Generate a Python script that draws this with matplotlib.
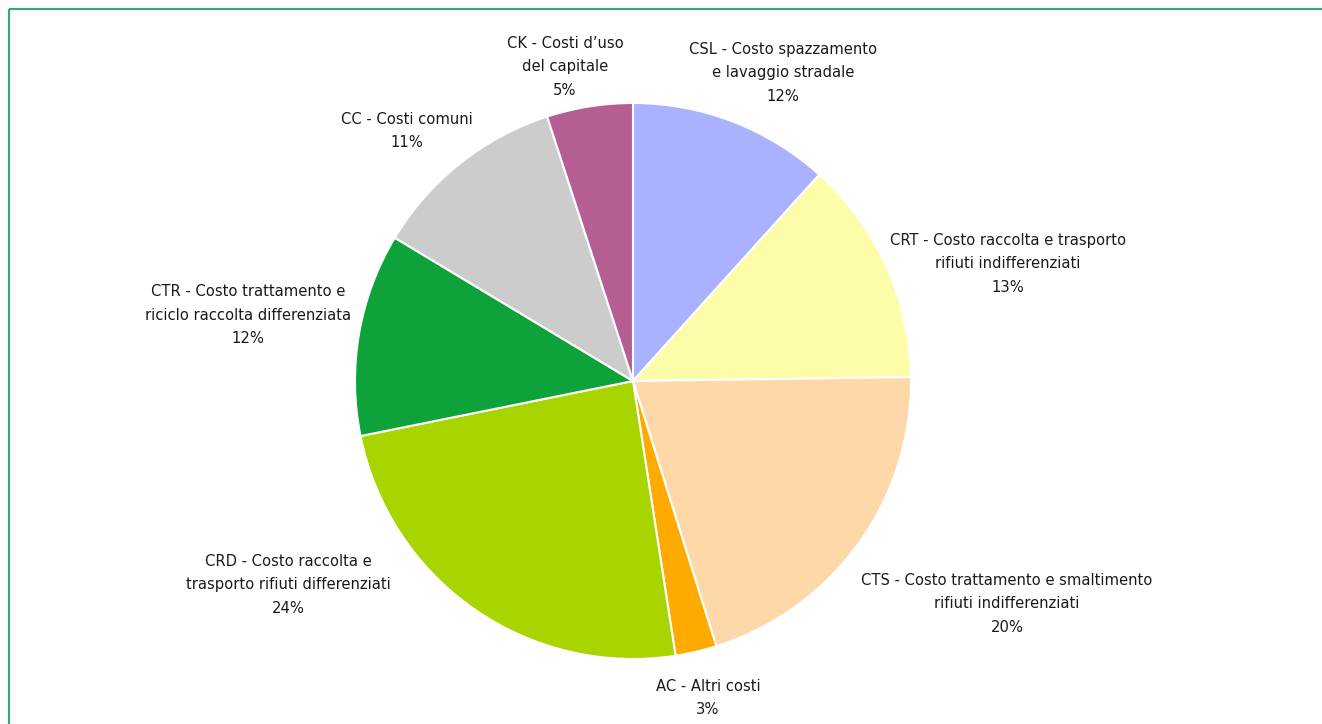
import matplotlib
matplotlib.use("Agg")
import matplotlib.pyplot as plt

# ---------------------------
# Data
# ---------------------------
labels = [
    "CSL - Costo spazzamento\ne lavaggio stradale",
    "CRT - Costo raccolta e trasporto\nrifiuti indifferenziati",
    "CTS - Costo trattamento e smaltimento\nrifiuti indifferenziati",
    "AC - Altri costi",
    "CRD - Costo raccolta e\ntrasporto rifiuti differenziati",
    "CTR - Costo trattamento e\nriciclo raccolta differenziata",
    "CC - Costi comuni",
    "CK - Costi d\u2019uso\ndel capitale",
]
shares = [11.7, 13.1, 20.4, 2.4, 24.3, 11.8, 11.4, 5.0]
pct_labels = ["12%", "13%", "20%", "3%", "24%", "12%", "11%", "5%"]
colors = ["#aab1ff", "#fdfca8", "#fed8a9", "#ffaa00",
          "#a8d400", "#0ea33a", "#cccccc", "#b55e91"]

# label centres (pixel coords, y from top)
label_pos = [(783, 73), (1008, 264), (1007, 604), (708, 698),
             (288, 585), (248, 315), (407, 131), (565, 67)]

W, H = 1322, 724

fig = plt.figure(figsize=(W / 100, H / 100), dpi=100)
ax = fig.add_axes([0, 0, 1, 1])

ax.pie(shares, colors=colors, startangle=90, counterclock=False,
       center=(633, H - 381), radius=278, frame=True,
       wedgeprops=dict(edgecolor="white", linewidth=1.5))
ax.set_xlim(0, W)
ax.set_ylim(0, H)
ax.set_aspect("equal")
ax.axis("off")

for lab, pct, (x, y) in zip(labels, pct_labels, label_pos):
    ax.text(x, H - y, lab + "\n" + pct, ha="center", va="center",
            fontsize=11.8, family="DejaVu Sans", stretch="condensed",
            color="#1a1a1a", linespacing=1.68)

# frame lines (left and top only)
ax.plot([9, 9], [0, H - 9], color="#3aa76d", lw=1.6, solid_capstyle="butt")
ax.plot([9, W], [H - 9, H - 9], color="#3aa76d", lw=1.6, solid_capstyle="butt")

fig.savefig("out.png", dpi=100)
